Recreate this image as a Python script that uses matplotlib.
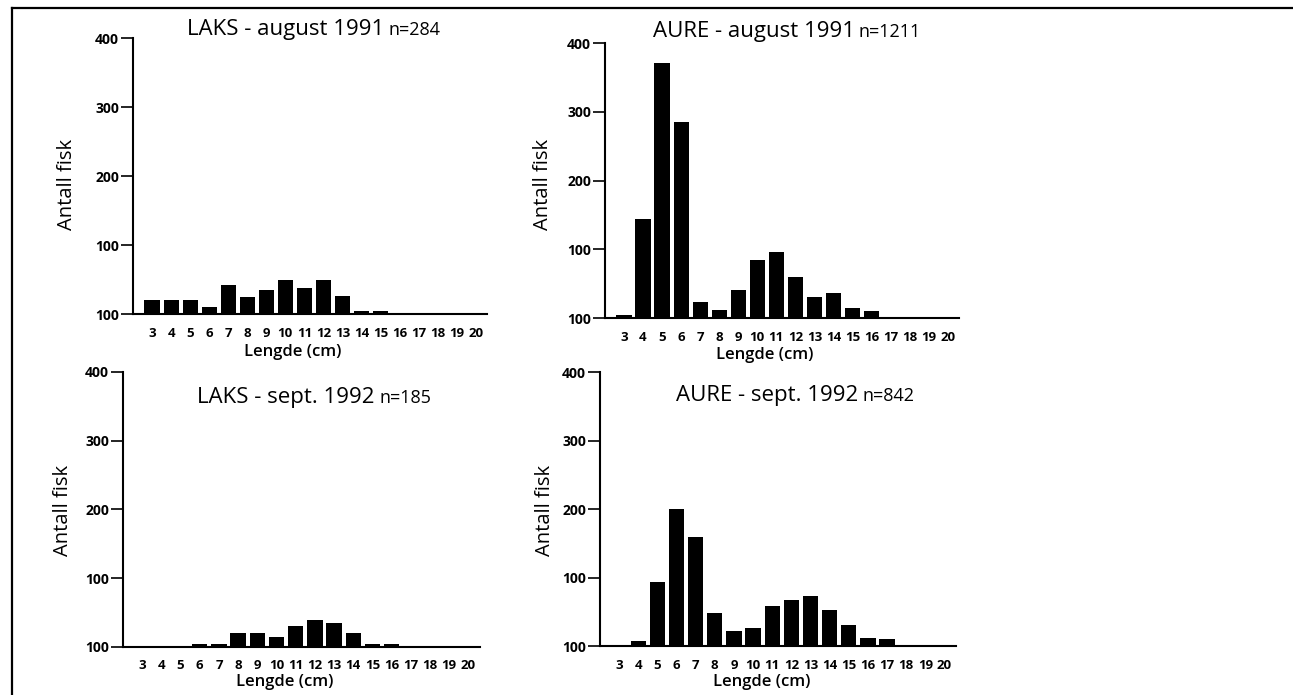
import matplotlib
matplotlib.use("Agg")
import matplotlib.pyplot as plt
from matplotlib.lines import Line2D

plt.rcParams["font.family"] = ["Open Sans", "DejaVu Sans"]

# data
lengths = list(range(3, 21))
laks_aug_1991 = [21, 21, 20, 10, 42, 25, 35, 50, 38, 50, 26, 4, 4, 0, 0, 0, 0, 0]
aure_aug_1991 = [5, 144, 371, 285, 23, 12, 41, 84, 96, 60, 31, 36, 14, 10, 0, 0, 0, 0]
laks_sep_1992 = [1, 1, 0, 5, 5, 21, 21, 15, 30, 39, 35, 20, 4, 4, 0, 0, 0, 0]
aure_sep_1992 = [0, 8, 94, 200, 159, 48, 22, 26, 58, 67, 73, 52, 31, 12, 10, 0, 0, 0]

ytick_vals = [0, 100, 200, 300, 400]
ytick_labels = ["100", "100", "200", "300", "400"]

titles = ["LAKS - august 1991", "AURE - august 1991",
          "LAKS - sept. 1992", "AURE - sept. 1992"]
n_labels = ["n=284", "n=1211", "n=185", "n=842"]
series = [laks_aug_1991, aure_aug_1991, laks_sep_1992, aure_sep_1992]

# layout: axes rect, title anchor, ylabel pos, xlabel pos (axes fractions)
panels = [
    dict(rect=[0.1029, 0.5482, 0.2738, 0.3971], title=(0.713, 1.011),
         ylab=(-0.186, 0.471), xlab=(0.452, -0.138)),
    dict(rect=[0.4679, 0.5424, 0.2738, 0.3957], title=(0.709, 1.022),
         ylab=(-0.175, 0.487), xlab=(0.452, -0.135)),
    dict(rect=[0.0951, 0.0691, 0.2760, 0.3957], title=(0.710, 0.887),
         ylab=(-0.168, 0.498), xlab=(0.454, -0.127)),
    dict(rect=[0.4640, 0.0705, 0.2753, 0.3942], title=(0.730, 0.894),
         ylab=(-0.154, 0.496), xlab=(0.455, -0.131)),
]

fig = plt.figure(figsize=(12.93, 6.95), dpi=100)

for vals, title, n_lab, p in zip(series, titles, n_labels, panels):
    ax = fig.add_axes(p["rect"])
    ax.bar(lengths, vals, width=0.8, color="black")
    ax.set_xlim(2.0, 20.6)
    ax.set_ylim(0, 400)

    for side in ("top", "right"):
        ax.spines[side].set_visible(False)
    for side in ("left", "bottom"):
        ax.spines[side].set_linewidth(1.5)

    ax.set_yticks(ytick_vals)
    ax.set_yticklabels(ytick_labels, fontsize=10, fontweight="bold")
    ax.tick_params(axis="y", length=9, width=1.2, pad=1)
    ax.set_xticks(lengths)
    ax.set_xticklabels([str(v) for v in lengths], fontsize=9.5, fontweight="bold")
    ax.tick_params(axis="x", length=0, pad=9)

    tx, ty = p["title"]
    ax.text(tx - 0.004, ty, title, transform=ax.transAxes, ha="right",
            va="baseline", fontsize=16)
    ax.text(tx + 0.008, ty, n_lab, transform=ax.transAxes, ha="left",
            va="baseline", fontsize=13)

    ax.text(*p["ylab"], "Antall fisk", transform=ax.transAxes, rotation=90,
            ha="center", va="center", fontsize=14.5)
    ax.text(*p["xlab"], "Lengde (cm)", transform=ax.transAxes,
            ha="center", va="center", fontsize=12, fontweight="semibold")

# frame from the scanned page
fig.add_artist(Line2D([12 / 1293, 1.0], [1 - 8 / 695, 1 - 8 / 695],
                      transform=fig.transFigure, color="black", lw=1.6))
fig.add_artist(Line2D([12 / 1293, 12 / 1293], [0.0, 1 - 8 / 695],
                      transform=fig.transFigure, color="black", lw=1.6))

fig.savefig("out.png", dpi=100)
